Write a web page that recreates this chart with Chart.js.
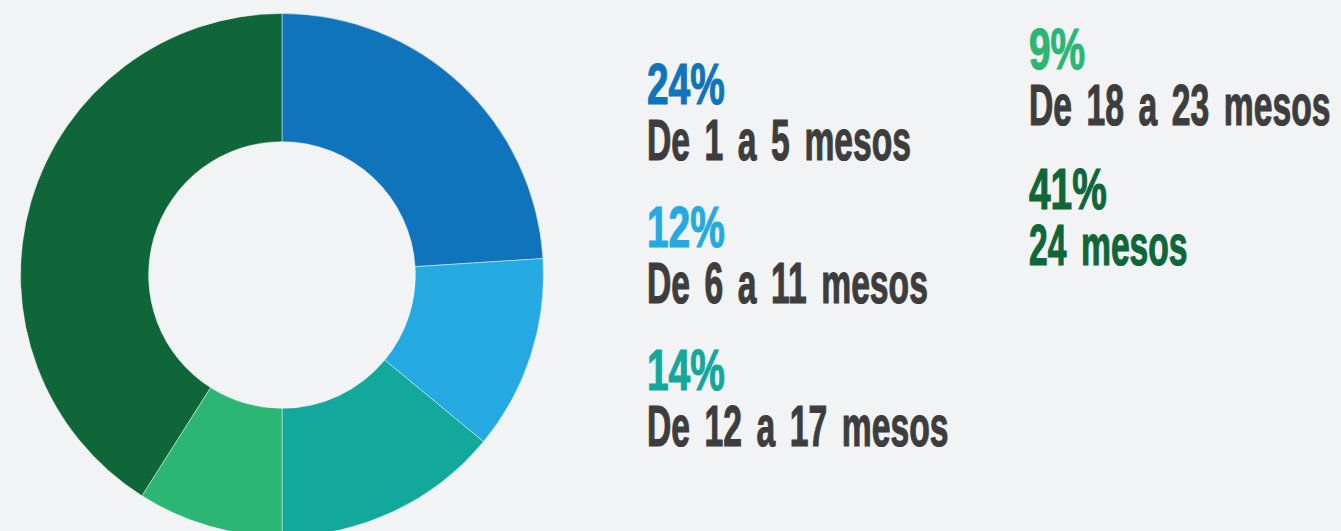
<!DOCTYPE html>
<html>
<head>
<meta charset="utf-8">
<script src="https://cdn.jsdelivr.net/npm/chart.js@4"></script>
<style>
	html, body {
		margin: 0;
		padding: 0;
		background: #f1f3f5;
		width: 1341px;
		height: 531px;
		overflow: hidden;
	}
	#chart-wrap {
		position: absolute;
		left: 20px;
		top: 13px;
		width: 524px;
		height: 524px;
	}
	.legend-col {
		position: absolute;
		font-family: "Liberation Sans Narrow", "Liberation Sans", sans-serif;
		font-weight: bold;
		font-size: 58px;
		line-height: 56px;
		color: #3d3d3d;
		white-space: nowrap;
		-webkit-text-stroke: 1.2px currentColor;
	}
	#legend-left { left: 647px; top: 56px; }
	#legend-right { left: 1029px; top: 21px; }
	.legend-item { margin-bottom: 31px; }
	#legend-right .legend-item { margin-bottom: 28px; }
	.pct, .lbl {
		transform-origin: left top;
	}
	.pct { transform: scaleX(0.67); }
	.lbl { transform: scaleX(0.58); word-spacing: 9px; }
</style>
</head>
<body>
<div id="chart-wrap"><canvas id="donut-chart"></canvas></div>
<div id="legend-left" class="legend-col"></div>
<div id="legend-right" class="legend-col"></div>
<script>
const labels = ['De 1 a 5 mesos', 'De 6 a 11 mesos', 'De 12 a 17 mesos', 'De 18 a 23 mesos', '24 mesos'];
const values = [24, 12, 14, 9, 41];
const colors = ['#1074bc', '#24a9e1', '#12a89b', '#2bb673', '#0f6638'];
const labelColors = ['#3d3d3d', '#3d3d3d', '#3d3d3d', '#3d3d3d', '#0f6638'];

const ctx = document.getElementById('donut-chart').getContext('2d');

new Chart(ctx, {
	type: 'doughnut',
	data: {
		labels: labels,
		datasets: [{
			data: values,
			backgroundColor: colors,
			borderColor: 'rgba(255,255,255,0.45)',
			borderWidth: 1,
		}],
	},
	options: {
		responsive: true,
		maintainAspectRatio: false,
		animation: false,
		cutout: '51%',
		layout: { padding: 0 },
		plugins: {
			legend: { display: false },
			tooltip: { enabled: false },
		},
	},
});

// legend: first three on the left, last two on the right
const leftCol = document.getElementById('legend-left');
const rightCol = document.getElementById('legend-right');
labels.forEach((label, idx) => {
	const item = document.createElement('div');
	item.className = 'legend-item';
	item.innerHTML = `<div class="pct" style="color:${colors[idx]}">${values[idx]}%</div>
		<div class="lbl" style="color:${labelColors[idx]}">${label}</div>`;
	if(idx < 3) {
		leftCol.appendChild(item);
	} else {
		rightCol.appendChild(item);
	}
});
</script>
</body>
</html>
